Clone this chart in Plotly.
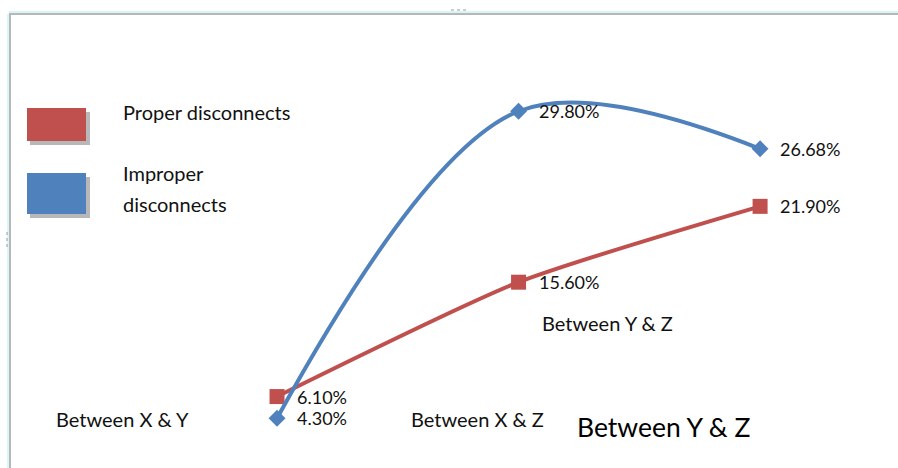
import plotly.graph_objects as go

# Share of disconnects by location pair
categories = ["Between X & Y", "Between X & Z", "Between Y & Z"]
proper = [6.10, 15.60, 21.90]
improper = [4.30, 29.80, 26.68]
series_names = ["Proper disconnects", "Improper disconnects"]

RED = "#C0504D"
BLUE = "#4F81BD"
FONT = "Lato, 'Liberation Sans', sans-serif"
TEXT = "#111111"

W, H = 898, 468


def px(x):
    return x / W


def py(y):
    return 1 - y / H


fig = go.Figure()

fig.add_trace(go.Scatter(
    x=categories, y=proper, name=series_names[0],
    mode="lines+markers",
    line=dict(color=RED, width=4, shape="spline", smoothing=0.6),
    marker=dict(symbol="square", size=15, color=RED),
    cliponaxis=False,
))

fig.add_trace(go.Scatter(
    x=categories, y=improper, name=series_names[1],
    mode="lines+markers",
    line=dict(color=BLUE, width=4, shape="spline", smoothing=1.0),
    marker=dict(symbol="diamond", size=13, color=BLUE),
    cliponaxis=False,
))

shapes = []
annotations = []

# Value labels to the right of each point
for series in (proper, improper):
    for cat, v in zip(categories, series):
        annotations.append(dict(
            x=cat, y=v, xref="x", yref="y", text=f"{v:.2f}%",
            showarrow=False, xanchor="left", yanchor="middle", xshift=18,
            font=dict(family=FONT, size=18, color=TEXT)))

# Frame lines along the top and left
shapes.append(dict(type="line", xref="paper", yref="paper",
                   x0=px(9), x1=1, y0=py(12), y1=py(12),
                   line=dict(color="#DDF4F6", width=2)))
shapes.append(dict(type="line", xref="paper", yref="paper",
                   x0=px(9), x1=1, y0=py(14), y1=py(14),
                   line=dict(color="#B4B8BA", width=2)))
shapes.append(dict(type="line", xref="paper", yref="paper",
                   x0=px(8), x1=px(8), y0=py(14), y1=0,
                   line=dict(color="#DDF4F6", width=2)))
shapes.append(dict(type="line", xref="paper", yref="paper",
                   x0=px(10), x1=px(10), y0=py(14), y1=0,
                   line=dict(color="#B4B8BA", width=2)))
# Small grip marks
shapes.append(dict(type="line", xref="paper", yref="paper",
                   x0=px(451), x1=px(466), y0=py(10), y1=py(10),
                   line=dict(color="#9A9A9A", width=1, dash="dot")))
shapes.append(dict(type="line", xref="paper", yref="paper",
                   x0=px(7), x1=px(7), y0=py(232), y1=py(248),
                   line=dict(color="#9A9A9A", width=1, dash="dot")))

# Legend swatches with drop shadows
legend_boxes = [(108, 141, RED), (173, 214, BLUE)]
for (y0, y1, col) in legend_boxes:
    shapes.append(dict(type="rect", xref="paper", yref="paper",
                       x0=px(30), x1=px(90), y0=py(y0 + 4), y1=py(y1 + 4),
                       fillcolor="#B8B8B8", line=dict(width=0), layer="below"))
    shapes.append(dict(type="rect", xref="paper", yref="paper",
                       x0=px(27), x1=px(86), y0=py(y0), y1=py(y1),
                       fillcolor=col, line=dict(width=0)))

legend_lines = [(series_names[0], 112), ("Improper", 173), ("disconnects", 204)]
for txt, y in legend_lines:
    annotations.append(dict(x=px(121), y=py(y), xref="paper", yref="paper",
                            text=txt, showarrow=False,
                            xanchor="left", yanchor="middle",
                            font=dict(family=FONT, size=20, color=TEXT)))

# Category labels
cat_pos = [(54, 419, 20), (409, 419, 20), (540, 323, 20)]
for name, (x, y, s) in zip(categories, cat_pos):
    annotations.append(dict(x=px(x), y=py(y), xref="paper", yref="paper",
                            text=name, showarrow=False,
                            xanchor="left", yanchor="middle",
                            font=dict(family=FONT, size=s, color=TEXT)))
annotations.append(dict(x=px(575), y=py(427), xref="paper", yref="paper",
                        text=categories[2], showarrow=False,
                        xanchor="left", yanchor="middle",
                        font=dict(family=FONT, size=26.5, color="#000000")))

# Axis scale: 0 % sits just below the bottom edge
fig.update_layout(
    width=W, height=H,
    margin=dict(l=0, r=0, t=0, b=0),
    paper_bgcolor="white", plot_bgcolor="white",
    showlegend=False,
    xaxis=dict(type="category", range=[-1.147, 2.571], visible=False,
               fixedrange=True),
    yaxis=dict(range=[0.166, 39.04], visible=False, fixedrange=True),
    shapes=shapes,
    annotations=annotations,
)

fig.write_html("out.html", config={"displayModeBar": False})
